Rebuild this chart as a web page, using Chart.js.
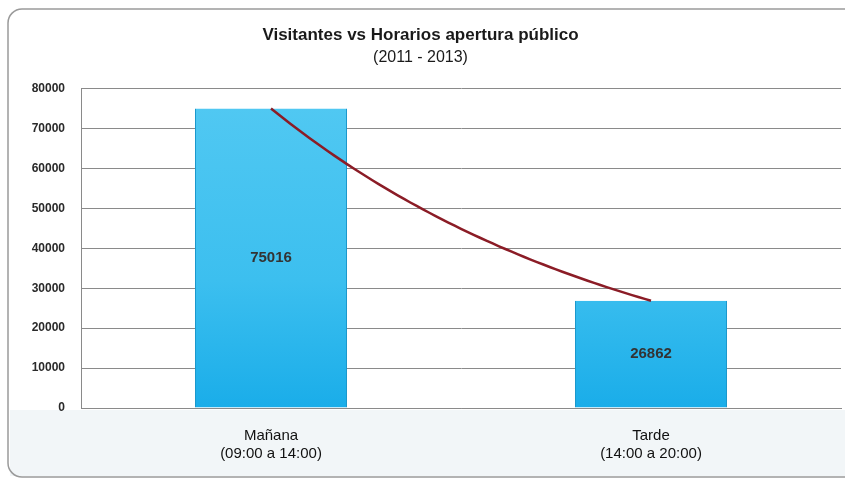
<!DOCTYPE html>
<html>
<head>
<meta charset="utf-8">
<script src="https://cdn.jsdelivr.net/npm/chart.js@4/dist/chart.umd.min.js"></script>
<style>
    html, body { margin: 0; padding: 0; background: #ffffff; }
    #wrap { width: 845px; height: 481px; }
</style>
</head>
<body>
<div id="wrap"><canvas id="visitorsChart" width="845" height="481"></canvas></div>
<script>
// Datos del gráfico
const categories = [['Mañana', '(09:00 a 14:00)'], ['Tarde', '(14:00 a 20:00)']];
const visitors = [75016, 26862];
const yMax = 80000;
const yStep = 10000;
const titleText = 'Visitantes vs Horarios apertura público';
const subtitleText = '(2011 - 2013)';

const FONT = "'Liberation Sans', Arial, sans-serif";

/* ---- Marco y banda inferior ---- */
const framePlugin = {
    id: 'frame',
    beforeDraw(chart) {
        const { ctx, chartArea } = chart;
        ctx.save();
        ctx.fillStyle = '#f2f6f8';
        ctx.fillRect(10, chartArea.bottom + 2, 840, 476 - chartArea.bottom - 2);
        ctx.strokeStyle = '#9a9a9a';
        ctx.lineWidth = 1.5;
        ctx.beginPath();
        ctx.roundRect(8, 9, 850, 468, 14);
        ctx.stroke();
        ctx.restore();
    }
};

/* ---- Línea de tendencia exponencial ---- */
const trendPlugin = {
    id: 'trend',
    afterDatasetsDraw(chart) {
        const { ctx, scales } = chart;
        const vals = chart.data.datasets[0].data;
        // ajuste y = a * e^(b*x) sobre los datos
        const n = vals.length;
        let sx = 0, sy = 0, sxx = 0, sxy = 0;
        vals.forEach((v, i) => {
            const ly = Math.log(v);
            sx += i; sy += ly; sxx += i * i; sxy += i * ly;
        });
        const b = (n * sxy - sx * sy) / (n * sxx - sx * sx);
        const lnA = (sy - b * sx) / n;
        ctx.save();
        ctx.strokeStyle = '#8b1c26';
        ctx.lineWidth = 2.5;
        ctx.beginPath();
        const steps = 60;
        for (let s = 0; s <= steps; s++) {
            const x = (n - 1) * s / steps;
            const px = scales.x.getPixelForValue(x);
            const py = scales.y.getPixelForValue(Math.exp(lnA + b * x));
            if (s === 0) ctx.moveTo(px, py); else ctx.lineTo(px, py);
        }
        ctx.stroke();
        ctx.restore();
    }
};

/* ---- Etiquetas de valor ---- */
const valueLabels = {
    id: 'valueLabels',
    afterDatasetsDraw(chart) {
        const { ctx } = chart;
        const meta = chart.getDatasetMeta(0);
        ctx.save();
        ctx.font = 'bold 15px ' + FONT;
        ctx.fillStyle = '#333333';
        ctx.textAlign = 'center';
        ctx.textBaseline = 'middle';
        meta.data.forEach((bar, i) => {
            const mid = (bar.y + bar.base) / 2;
            ctx.fillText(String(chart.data.datasets[0].data[i]), bar.x, mid);
        });
        ctx.restore();
    }
};

function barGradient(context) {
    const area = context.chart.chartArea;
    if (!area) return '#3cc0ef';
    const g = context.chart.ctx.createLinearGradient(0, area.top, 0, area.bottom);
    g.addColorStop(0, '#8fdcf7');
    g.addColorStop(0.06, '#50c8f2');
    g.addColorStop(0.6, '#3cbfef');
    g.addColorStop(1, '#1aade9');
    return g;
}

new Chart(document.getElementById('visitorsChart'), {
    type: 'bar',
    data: {
        labels: categories,
        datasets: [{
            data: visitors,
            backgroundColor: barGradient,
            borderColor: '#1b98cc',
            borderWidth: { left: 1, right: 1, top: 0, bottom: 0 },
            barPercentage: 0.4,
            categoryPercentage: 1.0,
        }],
    },
    options: {
        responsive: false,
        animation: false,
        devicePixelRatio: 1,
        layout: { padding: { top: 25, left: 0, right: 4, bottom: 13 } },
        plugins: {
            legend: { display: false },
            tooltip: { enabled: false },
            title: {
                display: true,
                text: titleText,
                color: '#1a1a1a',
                font: { family: FONT, size: 17, weight: 'bold' },
                padding: { top: 0, bottom: 3 },
            },
            subtitle: {
                display: true,
                text: subtitleText,
                color: '#1a1a1a',
                font: { family: FONT, size: 16 },
                padding: { top: 0, bottom: 21 },
            },
        },
        scales: {
            x: {
                offset: true,
                grid: { display: false, drawTicks: false },
                border: { display: true, color: '#8a8a8a', dash: [4, 2] },
                ticks: {
                    color: '#111111',
                    font: { family: FONT, size: 15 },
                    padding: 19,
                    maxRotation: 0,
                },
                afterFit(scale) { scale.height = 60; },
            },
            y: {
                min: 0,
                max: yMax,
                grid: { color: '#8a8a8a', lineWidth: 1, drawTicks: false },
                border: { display: true, color: '#8a8a8a' },
                ticks: {
                    stepSize: yStep,
                    color: '#2a2a2a',
                    font: { family: FONT, size: 12, weight: 'bold' },
                    padding: 16,
                    callback: (value) => String(value),
                },
                afterFit(scale) { scale.width = 81; },
            },
        },
    },
    plugins: [framePlugin, trendPlugin, valueLabels],
});
</script>
</body>
</html>
